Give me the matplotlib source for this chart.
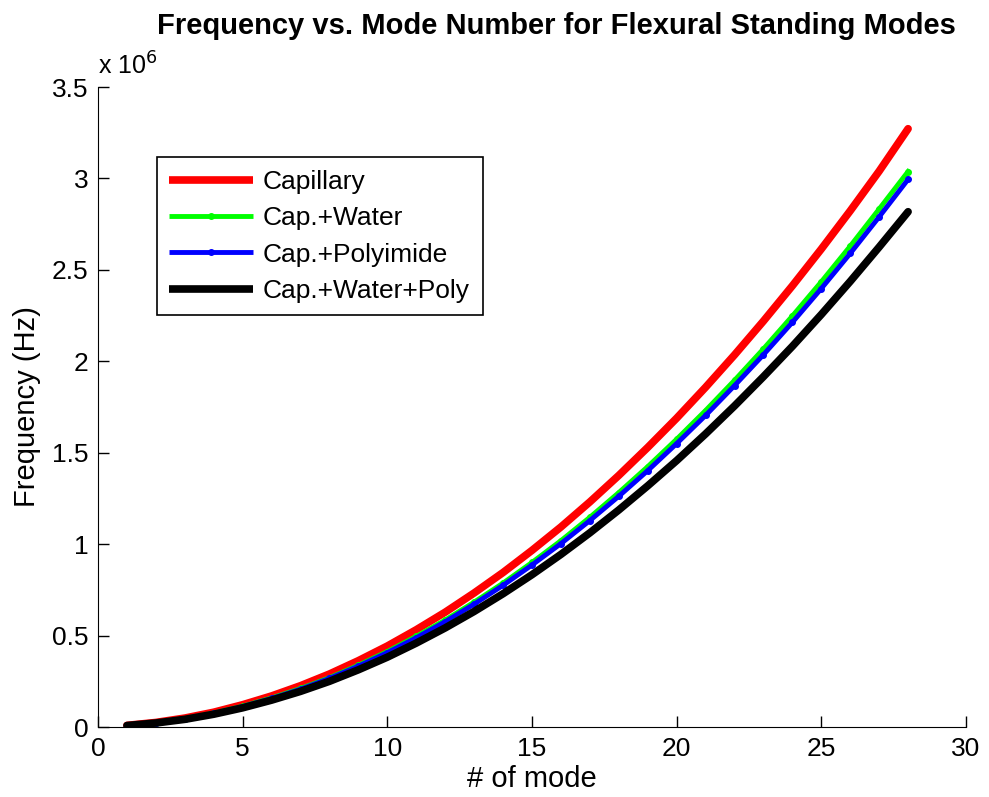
import matplotlib
matplotlib.use("Agg")
import matplotlib.pyplot as plt
import numpy as np
from matplotlib.ticker import FuncFormatter

# mode numbers and frequencies (x 10^6 Hz)
modes = list(range(1, 29))
capillary = [0.009, 0.025, 0.049, 0.081, 0.122, 0.170, 0.226, 0.290, 0.363, 0.443,
             0.532, 0.628, 0.733, 0.845, 0.966, 1.094, 1.231, 1.376, 1.529, 1.689,
             1.858, 2.035, 2.220, 2.413, 2.614, 2.823, 3.040, 3.272]
cap_water = [0.008, 0.023, 0.046, 0.076, 0.114, 0.159, 0.211, 0.270, 0.338, 0.413,
             0.496, 0.585, 0.683, 0.787, 0.900, 1.019, 1.147, 1.282, 1.424, 1.574,
             1.731, 1.896, 2.068, 2.248, 2.435, 2.630, 2.833, 3.038]
cap_poly = [0.008, 0.023, 0.045, 0.074, 0.112, 0.156, 0.207, 0.266, 0.333, 0.407,
            0.488, 0.576, 0.672, 0.775, 0.886, 1.003, 1.129, 1.262, 1.402, 1.550,
            1.704, 1.867, 2.036, 2.213, 2.398, 2.590, 2.790, 2.995]
cap_water_poly = [0.008, 0.022, 0.042, 0.070, 0.105, 0.147, 0.195, 0.250, 0.313, 0.382,
                  0.459, 0.542, 0.632, 0.729, 0.833, 0.944, 1.062, 1.187, 1.319, 1.457,
                  1.603, 1.756, 1.916, 2.082, 2.256, 2.437, 2.625, 2.818]

plt.rcParams['font.family'] = ['Liberation Sans', 'DejaVu Sans']
plt.rcParams['xtick.direction'] = 'in'
plt.rcParams['ytick.direction'] = 'in'

fig = plt.figure(figsize=(9.89, 7.97), dpi=100)
ax = fig.add_axes([0.0991, 0.0878, 0.8776, 0.803])

ax.plot(modes, np.array(capillary) * 1e6, color='#ff0000', lw=5.5, label='Capillary',
        solid_capstyle='round')
ax.plot(modes, np.array(cap_water) * 1e6, color='#00ff00', lw=3.5, marker='.',
        markersize=8, label='Cap.+Water')
ax.plot(modes, np.array(cap_poly) * 1e6, color='#0000ff', lw=3.5, marker='.',
        markersize=8, label='Cap.+Polyimide')
ax.plot(modes, np.array(cap_water_poly) * 1e6, color='#000000', lw=5.5,
        label='Cap.+Water+Poly', solid_capstyle='round')

ax.set_xlim(0, 30)
ax.set_ylim(0, 3.5e6)
ax.set_xticks(range(0, 31, 5))
ax.set_yticks(np.arange(0, 3.51e6, 0.5e6))
ax.yaxis.set_major_formatter(FuncFormatter(lambda v, p: '%g' % (v / 1e6)))
ax.tick_params(labelsize=19, length=8, width=1, pad=7)
ax.spines['top'].set_visible(False)
ax.spines['right'].set_visible(False)
ax.text(0.0, 1.012, r'x 10$^6$', transform=ax.transAxes, fontsize=18, ha='left', va='bottom')

ax.set_xlabel('# of mode', fontsize=21, labelpad=3)
ax.set_ylabel('Frequency (Hz)', fontsize=21, labelpad=8)
ax.set_title('Frequency vs. Mode Number for Flexural Standing Modes',
             fontsize=21, fontweight='bold', pad=38, x=0.528)

leg = ax.legend(loc='upper left', bbox_to_anchor=(0.068, 0.89), fontsize=19,
                fancybox=False, edgecolor='black', framealpha=1,
                handlelength=3.15, handletextpad=0.4, borderpad=0.47,
                labelspacing=0.47, borderaxespad=0)
leg.get_frame().set_linewidth(1.2)
for line in leg.get_lines():
    line.set_solid_capstyle('butt')

fig.savefig('out.png', dpi=100)
